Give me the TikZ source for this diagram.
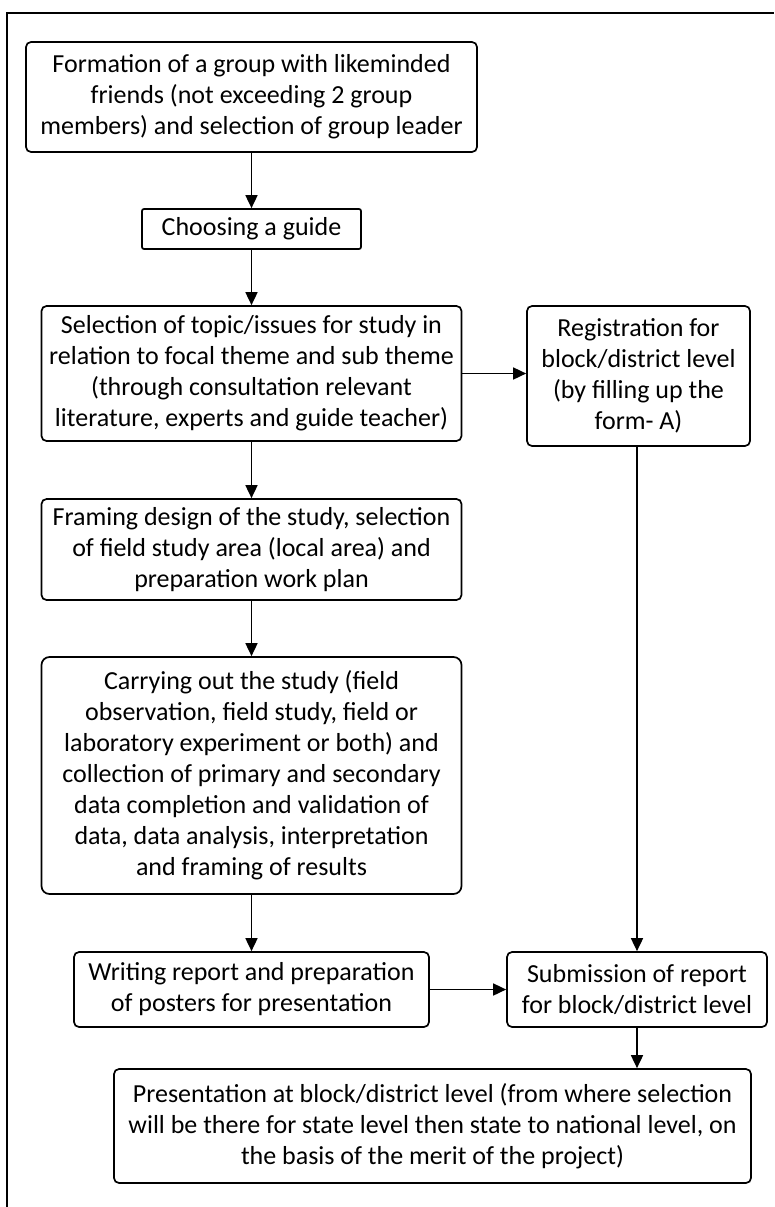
\documentclass[tikz,border=0pt]{standalone}
\usepackage{fontspec}
\setmainfont{Carlito}
\usetikzlibrary{arrows.meta}
\begin{document}
\begin{tikzpicture}[x=1pt,y=-1pt,
  box/.style={draw,line width=1.7pt,rounded corners=5pt,align=center,inner sep=0pt,
    font=\fontsize{26}{31}\selectfont},
  arr/.style={line width=1.7pt,-{Triangle[length=13pt,width=12pt]}},
  frameline/.style={line width=1.9pt}]
\useasboundingbox (0,0) rectangle (774,1207);
\coordinate (fbl) at (7,1207);
\coordinate (ftl) at (7,13);
\coordinate (ftr) at (774,13);
\draw[frameline] (fbl) -- (ftl) -- (ftr);

\node[box,minimum width=451pt,minimum height=110pt] (form) at (251.5,97)
  {Formation of a group with likeminded\\friends (not exceeding 2 group\\members) and selection of group leader};
\node[box,rounded corners=2pt,minimum width=219pt,minimum height=40pt] (guide) at (251.5,229)
  {Choosing a guide};
\node[box,minimum width=420pt,minimum height=135pt] (sel) at (251.5,373.5)
  {Selection of topic/issues for study in\\relation to focal theme and sub theme\\(through consultation relevant\\literature, experts and guide teacher)};
\node[box,minimum width=223pt,minimum height=140pt] (reg) at (638.5,376)
  {Registration for\\block/district level\\(by filling up the\\form- A)};
\node[box,minimum width=420pt,minimum height=101pt] (frame) at (251.5,549.5)
  {Framing design of the study, selection\\of field study area (local area) and\\preparation work plan};
\node[box,rounded corners=8pt,minimum width=420pt,minimum height=237pt] (carry) at (251.5,775.5)
  {Carrying out the study (field\\observation, field study, field or\\laboratory experiment or both) and\\collection of primary and secondary\\data completion and validation of\\data, data analysis, interpretation\\and framing of results};
\node[box,minimum width=355pt,minimum height=75pt] (write) at (251.5,989.5)
  {Writing report and preparation\\of posters for presentation};
\node[box,minimum width=260pt,minimum height=75pt] (sub) at (637,989.5)
  {Submission of report\\for block/district level};
\node[box,minimum width=637pt,minimum height=114pt] (pres) at (432.5,1126)
  {Presentation at block/district level (from where selection\\will be there for state level then state to national level, on\\the basis of the merit of the project)};

\draw[arr] (form.south) -- (guide.north);
\draw[arr] (guide.south) -- (sel.north);
\draw[arr] (sel.east) -- (sel.east -| reg.west);
\draw[arr] (sel.south) -- (frame.north);
\draw[arr] (frame.south) -- (carry.north);
\draw[arr] (carry.south) -- (write.north);
\draw[arr] (reg.south -| sub.north) -- (sub.north);
\draw[arr] (write.east) -- (sub.west);
\draw[arr] (sub.south) -- (sub.south |- pres.north);
\end{tikzpicture}
\end{document}
